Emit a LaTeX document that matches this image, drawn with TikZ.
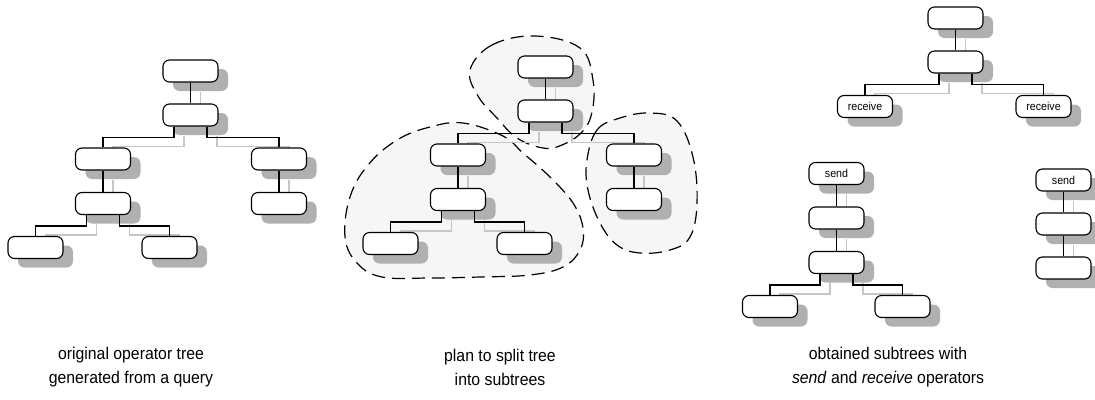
\documentclass[tikz,border=0pt]{standalone}
\usepackage{fontspec}
\setmainfont{Liberation Sans}[FakeStretch=0.93]
\usetikzlibrary{shadows}

\pgfdeclarelayer{blobs}
\pgfdeclarelayer{shadowlines}
\pgfsetlayers{blobs,shadowlines,main}

\definecolor{shadowgray}{HTML}{B0B0B0}
\definecolor{shadowline}{HTML}{C6C6C6}
\definecolor{blobfill}{HTML}{F6F6F6}

\tikzset{
  op/.style={draw=black, line width=1.1pt, fill=white, rounded corners=6.5pt,
    minimum width=55pt, minimum height=22pt, inner sep=0pt,
    font=\fontsize{11.5}{12}\selectfont,
    drop shadow={shadow xshift=10pt, shadow yshift=-9pt, fill=shadowgray, opacity=1}},
  link/.style={draw=black, line width=1.3pt},
  blob/.style={draw=black, line width=1.2pt, dash pattern=on 13pt off 7pt},
  caption/.style={align=center, font=\fontsize{17}{24}\selectfont, inner sep=0pt}
}

% straight link from a parent to its single child
\newcommand\vlink[2]{\draw[link] (#1.south) -- (#2.north);}
% fork from a parent to a left and a right child
\newcommand\fork[3]{%
  \draw[link] ([xshift=-16.5pt]#1.south) -- ++(0,11) -| (#2.north);
  \draw[link] ([xshift=16.5pt]#1.south) -- ++(0,11) -| (#3.north);}

\newcommand\alllinks{%
  \vlink{a1}{a2}\fork{a2}{a3}{a4}\vlink{a3}{a5}\vlink{a4}{a6}\fork{a5}{a7}{a8}
  \vlink{b1}{b2}\fork{b2}{b3}{b4}\vlink{b3}{b5}\vlink{b4}{b6}\fork{b5}{b7}{b8}
  \vlink{c1}{c2}\fork{c2}{c3}{c4}
  \vlink{d1}{d2}\vlink{d2}{d3}\fork{d3}{d4}{d5}
  \vlink{e1}{e2}\vlink{e2}{e3}}

\begin{document}
\begin{tikzpicture}[x=1pt,y=-1pt]
\useasboundingbox (0,0) rectangle (1095,399);

% original operator tree
\node[op] (a1) at (190.5,71) {};
\node[op] (a2) at (190.5,115) {};
\node[op] (a3) at (103,159) {};
\node[op] (a4) at (279,159) {};
\node[op] (a5) at (103,203.5) {};
\node[op] (a6) at (279,203.5) {};
\node[op] (a7) at (35.5,247.5) {};
\node[op] (a8) at (169.5,247.5) {};

% the same tree, split into parts
\node[op] (b1) at (545.5,67) {};
\node[op] (b2) at (545.5,111) {};
\node[op] (b3) at (458,155) {};
\node[op] (b4) at (634,155) {};
\node[op] (b5) at (458,199.5) {};
\node[op] (b6) at (634,199.5) {};
\node[op] (b7) at (390.5,243.5) {};
\node[op] (b8) at (524.5,243.5) {};

% resulting subtrees
\node[op] (c1) at (955.5,18) {};
\node[op] (c2) at (955.5,62) {};
\node[op] (c3) at (865,106.5) {receive};
\node[op] (c4) at (1043.5,106.5) {receive};

\node[op] (d1) at (836.5,173.5) {send};
\node[op] (d2) at (836.5,218) {};
\node[op] (d3) at (836.5,262.5) {};
\node[op] (d4) at (770,306.5) {};
\node[op] (d5) at (902.5,306.5) {};

\node[op] (e1) at (1063.5,180) {send};
\node[op] (e2) at (1063.5,224) {};
\node[op] (e3) at (1063.5,268) {};

% black links on top of the box shadows
\alllinks

% pale copies of the links, offset like the box shadows
\begin{pgfonlayer}{shadowlines}
\begin{scope}[transform canvas={xshift=10pt,yshift=-9pt},
              link/.style={draw=shadowline, line width=1.3pt}]
\alllinks
\end{scope}
\end{pgfonlayer}

% dashed regions marking the subtrees
\begin{pgfonlayer}{blobs}
\path[fill=blobfill] plot[smooth cycle, tension=0.65] coordinates {
  (470,70) (492,45) (535,36) (580,48) (593,80) (592,112) (582,132)
  (562,145) (543,148) (517,138) (497,118) (478,96)};
\path[fill=blobfill] plot[smooth cycle, tension=0.65] coordinates {
  (463,123) (430,127) (397,140) (368,165) (350,197) (345,237) (357,263)
  (382,277) (430,278) (480,277) (530,275) (563,267) (580,250) (583,228)
  (573,203) (550,177) (523,153) (503,136)};
\path[fill=blobfill] plot[smooth cycle, tension=0.65] coordinates {
  (587,160) (597,130) (620,118) (650,113) (677,121) (693,157) (697,203)
  (690,237) (670,250) (640,253) (617,245) (600,223) (588,190)};
\draw[blob] plot[smooth cycle, tension=0.65] coordinates {
  (470,70) (492,45) (535,36) (580,48) (593,80) (592,112) (582,132)
  (562,145) (543,148) (517,138) (497,118) (478,96)};
\draw[blob] plot[smooth cycle, tension=0.65] coordinates {
  (463,123) (430,127) (397,140) (368,165) (350,197) (345,237) (357,263)
  (382,277) (430,278) (480,277) (530,275) (563,267) (580,250) (583,228)
  (573,203) (550,177) (523,153) (503,136)};
\draw[blob] plot[smooth cycle, tension=0.65] coordinates {
  (587,160) (597,130) (620,118) (650,113) (677,121) (693,157) (697,203)
  (690,237) (670,250) (640,253) (617,245) (600,223) (588,190)};
\end{pgfonlayer}

% captions
\node[caption] (t1) at (131,367) {original operator tree\\generated from a query};
\node[caption] (t2) at (500,367) {plan to split tree\\into subtrees};
\node[caption] (t3) at (888,367) {obtained subtrees with\\\textit{send} and \textit{receive} operators};
\end{tikzpicture}
\end{document}
